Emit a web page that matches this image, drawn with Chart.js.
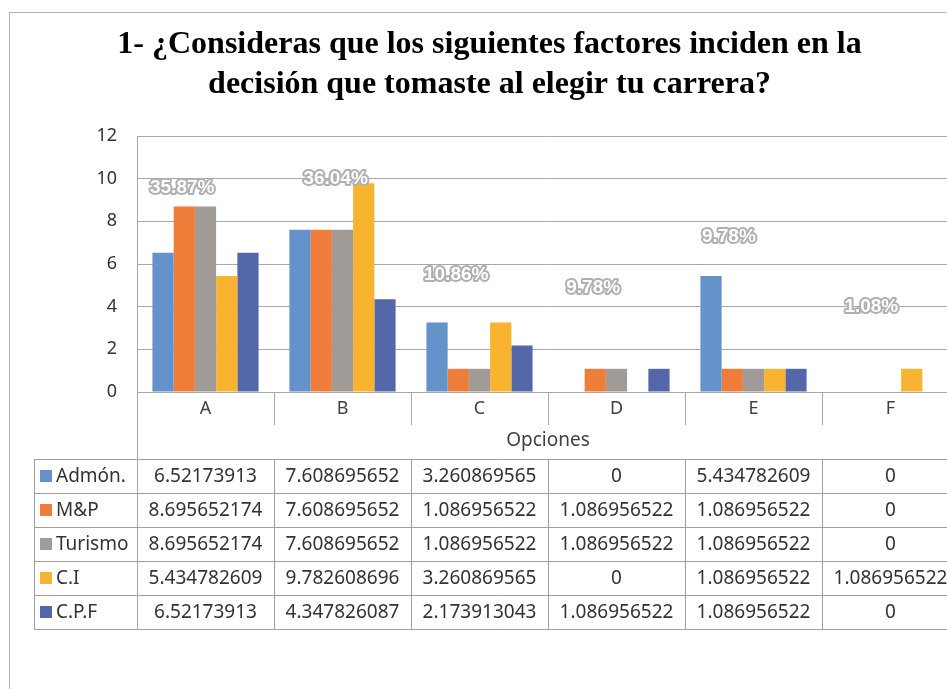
<!DOCTYPE html>
<html>
<head>
<meta charset="utf-8">
<script src="https://cdn.jsdelivr.net/npm/chart.js@4.4.0/dist/chart.umd.min.js"></script>
<style>
  html, body { margin: 0; padding: 0; background: #fff; overflow: hidden; }
  #frame {
    position: absolute; left: 9px; top: 12px;
    width: 960px; height: 700px;
    border-left: 1px solid #b4b4b4; border-top: 1px solid #b4b4b4;
  }
</style>
</head>
<body>
<div id="frame"><canvas id="chart" width="960" height="700"></canvas></div>
<script>
// opciones y porcentajes por carrera
const categories = ['A', 'B', 'C', 'D', 'E', 'F'];
const seriesNames = ['Admón.', 'M&P', 'Turismo', 'C.I', 'C.P.F'];
const admon   = [6.52173913, 7.608695652, 3.260869565, 0, 5.434782609, 0];
const myp     = [8.695652174, 7.608695652, 1.086956522, 1.086956522, 1.086956522, 0];
const turismo = [8.695652174, 7.608695652, 1.086956522, 1.086956522, 1.086956522, 0];
const ci      = [5.434782609, 9.782608696, 3.260869565, 0, 1.086956522, 1.086956522];
const cpf     = [6.52173913, 4.347826087, 2.173913043, 1.086956522, 1.086956522, 0];
const totals  = ['35.87%', '36.04%', '10.86%', '9.78%', '9.78%', '1.08%'];
const yTicks  = [0, 2, 4, 6, 8, 10, 12];

const colors = ['#6592c9', '#ee7d3a', '#a09b97', '#f8b330', '#5468a9'];

// where each total label sits: [offset in categories, y value]
const labelAnchors = [[-0.17, 9.56], [-0.05, 9.99], [-0.17, 5.49], [-0.17, 4.88], [-0.18, 7.27], [-0.14, 3.98]];

// excel "general" number format (10 significant digits)
function fmt(v) {
    return String(Number(v.toPrecision(10)));
}

const tableFont = '19px "Noto Sans"';
const lineColor = '#a8a8a8';

const totalsPlugin = {
    id: 'totals',
    afterDatasetsDraw(chart) {
        const ctx = chart.ctx;
        const x = chart.scales.x, y = chart.scales.y;
        const colW = (chart.chartArea.right - chart.chartArea.left) / categories.length;
        ctx.save();
        ctx.font = 'bold 19px "Liberation Sans"';
        ctx.textAlign = 'center';
        ctx.textBaseline = 'middle';
        ctx.lineJoin = 'round';
        for (let i = 0; i < totals.length; i++) {
            const px = x.getPixelForValue(i) + labelAnchors[i][0] * colW;
            const py = y.getPixelForValue(labelAnchors[i][1]);
            ctx.strokeStyle = '#b0b0b0';
            ctx.lineWidth = 4;
            ctx.strokeText(totals[i], px, py);
            ctx.fillStyle = '#ffffff';
            ctx.fillText(totals[i], px, py);
        }
        ctx.restore();
    }
};

// data table under the axis
const tablePlugin = {
    id: 'dataTable',
    afterDraw(chart) {
        const ctx = chart.ctx;
        const area = chart.chartArea;
        const x = chart.scales.x;
        const colW = (area.right - area.left) / categories.length;
        const tableLeft = 24;
        const tableTop = area.bottom + 67;
        const rowH = 34;
        const rows = [admon, myp, turismo, ci, cpf];
        const tableBottom = tableTop + rowH * rows.length;

        ctx.save();
        ctx.strokeStyle = lineColor;
        ctx.lineWidth = 1;

        // left edge of the category columns
        ctx.beginPath();
        ctx.moveTo(area.left + 0.5, area.bottom);
        ctx.lineTo(area.left + 0.5, tableBottom);
        ctx.stroke();

        // axis title
        ctx.fillStyle = '#404040';
        ctx.font = tableFont;
        ctx.textAlign = 'center';
        ctx.textBaseline = 'middle';
        ctx.fillText('Opciones', (area.left + area.right) / 2, area.bottom + 49);

        // grid of the table
        ctx.strokeStyle = '#9e9e9e';
        ctx.beginPath();
        for (let r = 0; r <= rows.length; r++) {
            const yy = Math.round(tableTop + r * rowH) + 0.5;
            ctx.moveTo(tableLeft, yy);
            ctx.lineTo(area.right, yy);
        }
        ctx.moveTo(tableLeft + 0.5, tableTop);
        ctx.lineTo(tableLeft + 0.5, tableBottom);
        for (let k = 1; k <= categories.length; k++) {
            const xx = Math.round(area.left + k * colW) + 0.5;
            ctx.moveTo(xx, tableTop);
            ctx.lineTo(xx, tableBottom);
        }
        ctx.stroke();

        for (let r = 0; r < rows.length; r++) {
            const cy = tableTop + r * rowH + rowH / 2;
            ctx.fillStyle = colors[r];
            ctx.fillRect(tableLeft + 6, cy - 6, 12, 12);
            ctx.fillStyle = '#333333';
            ctx.textAlign = 'left';
            ctx.fillText(seriesNames[r], tableLeft + 22, cy + 1);
            ctx.textAlign = 'center';
            for (let i = 0; i < categories.length; i++) {
                ctx.fillText(fmt(rows[r][i]), x.getPixelForValue(i), cy + 1);
            }
        }
        ctx.restore();
    }
};

const chart = new Chart(document.querySelector('#chart').getContext('2d'), {
    type: 'bar',
    data: {
        labels: categories,
        datasets: [admon, myp, turismo, ci, cpf].map((d, i) => ({
            label: seriesNames[i],
            data: d,
            backgroundColor: colors[i],
            borderWidth: 0,
            barPercentage: 1,
            categoryPercentage: 0.775
        }))
    },
    options: {
        responsive: false,
        animation: false,
        devicePixelRatio: 1,
        layout: { padding: { left: 10, right: 11, top: 0, bottom: 288 } },
        plugins: {
            legend: { display: false },
            tooltip: { enabled: false },
            title: {
                display: true,
                text: ['1- ¿Consideras que los siguientes factores inciden en la',
                       'decisión que tomaste al elegir tu carrera?'],
                color: '#000',
                font: { family: '"Liberation Serif"', size: 32, weight: 'bold', lineHeight: 1.25 },
                padding: { top: 12, bottom: 31 }
            }
        },
        scales: {
            x: {
                offset: true,
                grid: { offset: true, drawOnChartArea: false, drawTicks: true, tickLength: 33, color: lineColor },
                border: { display: false },
                ticks: { font: { family: '"Noto Sans"', size: 18 }, color: '#404040', padding: -27 },
                afterFit: s => { s.height = 33; }
            },
            y: {
                min: 0,
                max: 12,
                afterBuildTicks: s => { s.ticks = yTicks.map(v => ({ value: v })); },
                grid: { color: lineColor, drawTicks: false },
                border: { display: true, color: lineColor },
                ticks: { font: { family: '"Noto Sans"', size: 18 }, color: '#333', padding: 20 },
                afterFit: s => { s.width = 117; }
            }
        }
    },
    plugins: [totalsPlugin, tablePlugin]
});
</script>
</body>
</html>
